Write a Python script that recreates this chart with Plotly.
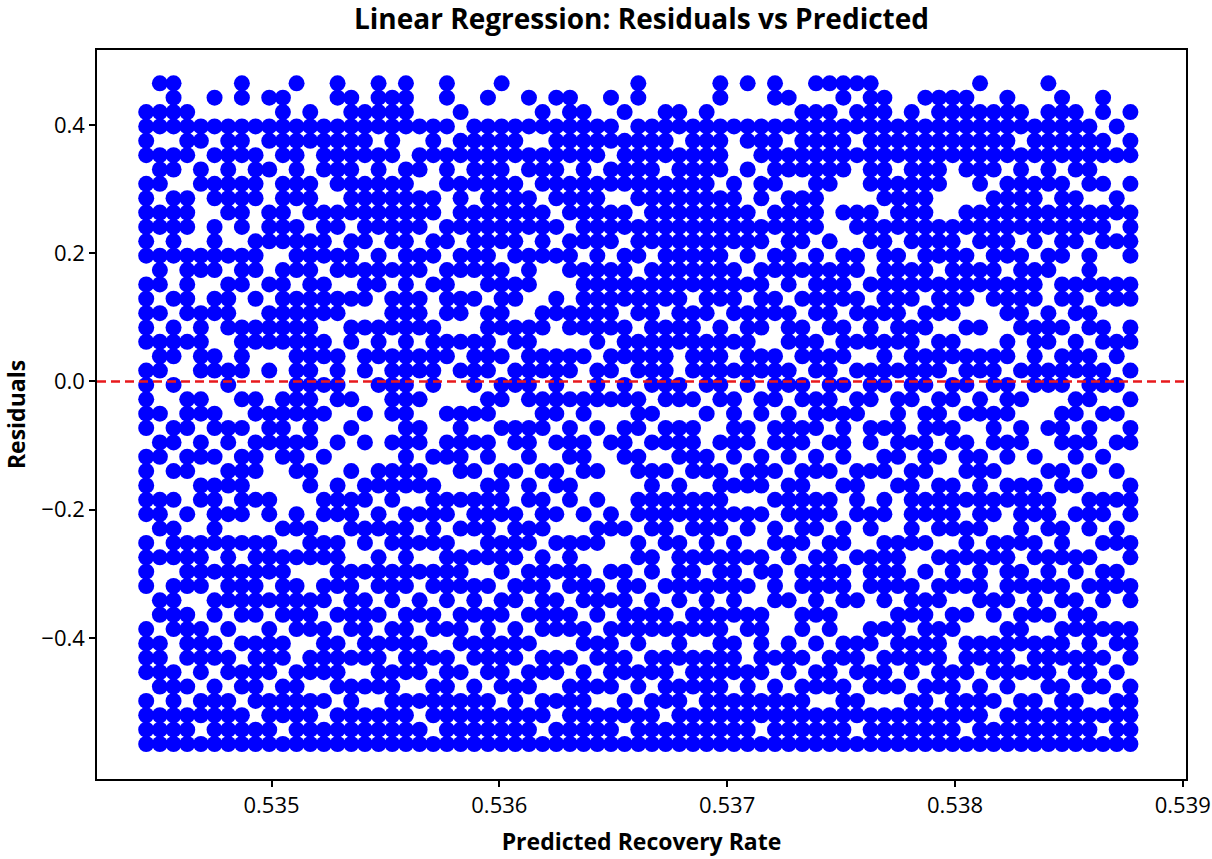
import plotly.graph_objects as go

# grid used to read the scatter off the picture:
# column i -> predicted value, row j -> residual value
pred_start, pred_step = 0.53445, 0.00006
resid_top, resid_step = 0.465, 0.0224
n_rows = 47

# one string per predicted-value column, top (0.465) to bottom (-0.565); 'o' = a point
columns = [
    "..ooo o.ooo ooo.o oooo. ooooo .oooo o.ooo o..oo oo.oo oo",
    "o.oo. ooo.o o.ooo .o.oo o..o. oo..o oo.o. .oo.o ooo.o oo",
    "oooo. oo.oo ooo.. o.ooo .o..o o.o.o .ooo. oooo. .oooo oo",
    "..ooo o..oo o.ooo oo.o. ..ooo .oo.. o.ooo o.ooo o.o.o oo",
    "...oo .oo.. ..oo. .oooo o.oo. oo.oo ..ooo o..oo oo.oo .o",
    ".o.o. o.oo. oooo. oo..o o..oo .o.oo ooo.o .oo.o o.ooo oo",
    "...oo ooooo ..o.o ooo.. oo..o o.oo. o.ooo oo.o. oo.oo oo",
    "oo.oo o.ooo o.ooo ..ooo o.o.o .oooo o.o.o ooo.o .oo.o oo",
    "...o. oooo. .ooo. o.oo. ..oo. ooo.o ..ooo ooo.o oooo. oo",
    ".o.oo .o..o oo..o .ooo. o..oo o...o o.ooo .o.oo oo.oo oo",
    ".oooo o.ooo oo.oo oooo. ..ooo oo... .o.oo ooo.o o.ooo .o",
    "o..oo oooo. oooo. ooooo oooo. ooo.. oo.o. oooo. .oooo oo",
    "..ooo ..ooo .oooo ooooo ooooo o.oo. .ooo. .ooo. oo.oo oo",
    "...oo oo..o ooo.o oo.oo .o.o. .o..o o.oo. oo.oo oo.o. oo",
    "oo.oo ooo.o o.oo. oo..o ooo.. o..oo o.ooo o.o.o ooo.o oo",
    ".oooo ooooo .ooo. o.oo. ..o.o ..o.o oo..o oooo. o.ooo oo",
    "..ooo o.ooo oo.oo o.o.o o..o. o..oo .oo.o .oooo o.o.o oo",
    "oooo. ooooo o.ooo ..ooo .o... ..oo. oo.oo o.o.o ooo.o oo",
    ".oooo o.ooo oo.o. ooo.o oooo. o.ooo .oo.o oo.oo .oooo oo",
    "oooo. .oooo ooooo ooooo ooooo oooo. ooooo o.ooo oo.oo oo",
    "...o. oo.oo o.oo. ooo.o o.o.o o.oo. o.o.o .oo.o oo.o. oo",
    "...oo o..oo .oo.o ..ooo oo... .o.oo ooo.o o.oo. o.ooo .o",
    "oo.o. ooo.. oo.oo oo.oo ...o. oo..o o.ooo oo.o. ooooo oo",
    "..o.o o.ooo o.oo. oo.o. o..oo ooo.o .o.oo o.ooo .o.oo oo",
    "...oo ooo.o oooo. o..oo oo.o. o.o.o oo.o. ooo.o o.ooo oo",
    ".o.oo ooooo ooooo .oooo o.oo. oo.oo oooo. o.ooo oo.oo oo",
    "o..oo ooooo oo.oo ooo.o .oo.o ..ooo o.ooo .oo.o ooo.o oo",
    "...oo o.ooo ooo.o o.oo. oo..o o.o.. oooo. oo.oo o.ooo oo",
    ".o.o. oo.oo o.ooo ..ooo ooo.o oo.oo .oo.o o.o.o .oo.o oo",
    "..oo. ooo.o ooo.. .oo.o o.ooo ..o.o oo.oo oooo. oo.oo .o",
    ".o.oo oooo. o.o.. oo..o oooo. o.oo. o.o.o .ooo. oo.o. oo",
    ".oooo o.ooo .ooo. .oo.o o.o.o oo.oo ..ooo o.oo. o.ooo oo",
    "..ooo ooooo oo.oo ooo.o ..oo. ooo.. o.o.o oo.oo .oooo oo",
    "...oo o.ooo ooooo oooo. ooo.o ..o.o .oo.. ooo.o o.o.o oo",
    ".o.oo .oo.o oo.oo ooo.o o.o.. o.... oo..o .o.oo ooo.o oo",
    "..o.o ooo.o o.ooo o.ooo .oo.o oo... .o..o oooo. oo.oo .o",
    "oo.oo oooo. ooo.o oo.oo o.ooo .oo.o o.oo. o.ooo .oo.o oo",
    "...oo ooooo oo.oo ooooo oo.o. o.ooo oo.oo .ooo. oo.oo oo",
    "..ooo o.ooo ooooo o.ooo ooo.o o.o.o ooo.. o.oo. oooo. oo",
    "..oo. ooooo ooooo oooo. .oo.o oo.oo o.ooo oo.oo o.ooo oo",
    "...oo ooooo ooooo .oooo o.o.o ooo.o oo.oo o.oo. ooo.o oo",
    "..ooo ooooo ooooo oo.oo oo.o. .oo.o oooo. oooo. ooooo oo",
    "oo.oo oo.oo ooooo o.ooo ooo.. o.ooo oo.oo o.ooo ooooo oo",
    "...o. ..ooo oo.oo oo.o. o.ooo oo.o. o.ooo ooo.o oo.oo oo",
    "o..oo .o..o ooo.o .oooo oo..o o.oo. oo.o. o.oo. .oooo oo",
    "...oo o.oo. oo.oo ooo.o o.oo. .ooo. o..oo ..ooo oo.oo .o",
    "oo.oo ooo.o o.oo. oo..o ooo.o o.o.o .oo.o oo... o.ooo oo",
    ".o.o. oo.oo ooooo .ooo. oo.oo oo.oo o.oo. .o..o oo.oo oo",
    "..ooo oo.oo oo.o. o.ooo .oo.o o.ooo ooo.o o.oo. o.ooo oo",
    "o.ooo ooooo o.ooo oo.oo o.ooo .oo.o oo.oo ooo.o .oo.o oo",
    "o.ooo ooo.. .o.oo ooo.o oooo. o.o.o o.ooo o.oo. ooo.o oo",
    "oo.oo oo..o ..ooo o.ooo .o.oo oo.o. .oo.o oo..o o.ooo oo",
    "o.oo. o...o o.oo. oo.o. o.oo. ..ooo o..o. .o..o oo.oo .o",
    "ooooo ooo.o oo..o .ooo. ooo.o o.o.. oo.oo o..oo .oo.o oo",
    ".oooo oooo. ooooo oo.oo oo..o .oo.o o.ooo oo.o. ooo.o oo",
    "...oo o.ooo o.ooo oooo. o.ooo oo.o. ..ooo o.ooo o.o.o oo",
    "..ooo ooooo oo.oo o.ooo ooo.. o.ooo ooo.. ooo.o oo.oo oo",
    ".o.oo ooooo ooooo .oo.o oo.oo ooo.o o.o.o .oooo o.ooo oo",
    ".oooo ooo.. ooo.o oo.oo o.ooo .o.oo oo.o. oo.oo ooo.o oo",
    ".oooo o.... ooooo oo.oo .oo.o o..oo oo.oo o.oo. .oooo oo",
    ".oooo oo..o o.ooo o.o.o oo.o. ooo.o .ooo. o.o.o oo.oo .o",
    "o.ooo ooo.o oo.oo ..o.o o.oo. .oooo oo.oo oo..o o.ooo oo",
    "..ooo oo.oo ooooo o...o oo.oo o.o.o o.oo. .oo.o oo.o. oo",
    ".oooo o.ooo ooo.o oo.oo .ooo. oo.oo ..ooo oo.oo ooo.o oo",
    "..oo. ooooo o.ooo ooo.. o.o.o o..oo ooo.o o.ooo .o.oo oo",
    "...oo o.ooo oo.oo o.ooo oo... .o.oo o.oo. ooo.o oo.oo oo",
    "o.ooo ooo.o o.oo. .ooo. oo..o ..o.o oo.oo o.o.o ooo.o oo",
    ".oooo o.ooo ooo.o o.o.o oo.oo o.oo. .ooo. oo.oo o.ooo oo",
    "..ooo oo.oo oo..o oo.oo o.oo. oo.o. o..oo .ooo. oo.oo oo",
    "...oo ooo.o o.ooo .oo.o ooo.o o.o.o oo.o. o.ooo ooo.o oo",
    ".oo.o o.o.o oo..o o.oo. oo.o. .o..o o.o.o oo.o. o.o.o .o",
    "...o. o..oo .o..o o..oo .o.o. o.o.o .oo.o o..oo .o.oo oo",
    "..o.o o.o.o ooo.o o.oo. o.o.o o..oo o.oo. oo.oo o.ooo oo",
]

x_ticks = [0.535, 0.536, 0.537, 0.538, 0.539]
y_ticks = [-0.4, -0.2, 0.0, 0.2, 0.4]
y_labels = ["\u22120.4", "\u22120.2", "0.0", "0.2", "0.4"]

pred, resid = [], []
for i, col in enumerate(columns):
    cells = col.replace(" ", "")[:n_rows]
    for j, ch in enumerate(cells):
        if ch == "o":
            pred.append(round(pred_start + i * pred_step, 6))
            resid.append(round(resid_top - j * resid_step, 4))

fig = go.Figure()
fig.add_trace(go.Scatter(x=pred, y=resid, mode="markers",
                         marker=dict(color="blue", size=16, line_width=0),
                         showlegend=False, hoverinfo="skip"))

# zero reference line
fig.add_shape(type="line", xref="paper", x0=0, x1=1, yref="y", y0=0, y1=0,
              line=dict(color="#e8191c", width=2.4, dash="9px,5px"), layer="above")

font = "'Open Sans', sans-serif"
fig.update_layout(
    width=1212, height=859,
    margin=dict(l=97, r=26, t=50, b=80),
    paper_bgcolor="white", plot_bgcolor="white",
    font=dict(family=font, size=22, color="black"),
    title=dict(text="<b>Linear Regression: Residuals vs Predicted</b>",
               x=0.5, xref="paper", xanchor="center",
               y=0.978, yref="container", yanchor="middle",
               font=dict(size=28)),
)
fig.update_xaxes(range=[0.534234, 0.539014], tickvals=x_ticks,
                 ticktext=[f"{v:.3f}" for v in x_ticks],
                 ticks="outside", ticklen=6, tickwidth=1.5, tickcolor="black",
                 showline=True, linecolor="black", linewidth=1.5, mirror=True,
                 showgrid=False, zeroline=False, automargin=False,
                 title=dict(text="<b>Predicted Recovery Rate</b>", standoff=16,
                            font=dict(size=23)))
fig.update_yaxes(range=[-0.62, 0.517], tickvals=y_ticks, ticktext=y_labels,
                 ticks="outside", ticklen=6, tickwidth=1.5, tickcolor="black",
                 showline=True, linecolor="black", linewidth=1.5, mirror=True,
                 showgrid=False, zeroline=False, automargin=False,
                 title=dict(text="<b>Residuals</b>", standoff=16,
                            font=dict(size=23)))

# drop the default page margin so the figure sits at the window's corner
fig.write_html("out.html", config={"displayModeBar": False},
               post_script="document.body.style.margin='0';")
